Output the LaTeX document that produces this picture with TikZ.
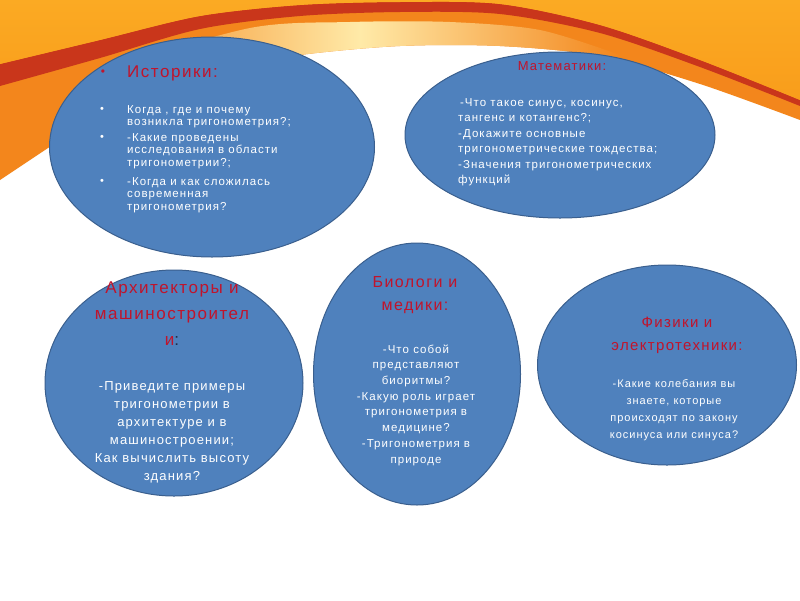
\documentclass[tikz,border=0pt]{standalone}
\usepackage{fontspec}
\setmainfont{Liberation Sans}[LetterSpace=9]
\usetikzlibrary{shapes.geometric}
\definecolor{ellfill}{HTML}{4F81BD}
\definecolor{elldraw}{HTML}{3A5F8E}
\definecolor{ttl}{HTML}{C0142C}
\definecolor{orA}{HTML}{F99D1B}
\definecolor{orAtop}{HTML}{FBAA23}
\definecolor{orB}{HTML}{F3861C}
\definecolor{redband}{HTML}{C9361B}
\definecolor{paley}{HTML}{FFEAA8}
\definecolor{darkcolon}{HTML}{1F2D4A}
\tikzset{
  ell/.style={ellipse, fill=ellfill, draw=elldraw, line width=1pt, inner sep=0pt},
  ttlA/.style={text=ttl, inner sep=0pt},
  body/.style={text=white, inner sep=0pt},
}
\begin{document}
\begin{tikzpicture}[x=1pt,y=-1pt]
\useasboundingbox (0,0) rectangle (800,600);
\fill[white] (0,0) rectangle (800,600);
% background swoosh
\fill[orB] (0,0) -- plot[smooth] coordinates {(0,180) (60,140) (120,100) (200,72) (300,55) (400,46) (500,46) (600,56) (700,84) (800,120)} -- (800,0) -- cycle;
\begin{scope}
  \clip (0,0) -- plot[smooth] coordinates {(0,180) (60,140) (120,100) (200,72) (300,55) (400,46) (500,46) (600,56) (700,84) (800,120)} -- (800,0) -- cycle;
  \shade[left color=orB, right color=orB, middle color=paley] plot[smooth] coordinates {(100,70) (250,28) (350,22) (450,22) (540,30) (620,55)} -- (620,140) -- (100,140) -- cycle;
\end{scope}
\fill[redband] plot[smooth] coordinates {(0,64) (100,40) (200,16) (300,5) (400,2) (500,4) (600,25) (700,60) (800,100)} -- plot[smooth] coordinates {(800,106) (700,67) (600,33) (500,14) (400,12) (300,16) (200,29) (100,58) (0,86)} -- cycle;
\shade[top color=orAtop, bottom color=orA] (0,0) -- plot[smooth] coordinates {(0,64) (100,40) (200,16) (300,5) (400,2) (500,4) (600,25) (700,60) (800,100)} -- (800,0) -- cycle;
% ellipses
\node[ell, minimum width=325pt, minimum height=220pt] (e1) at (212,147) {};
\node[ell, minimum width=310pt, minimum height=166pt] (e2) at (560,135) {};
\node[ell, minimum width=258pt, minimum height=226pt] (e3) at (174,383) {};
\node[ell, minimum width=207pt, minimum height=262pt] (e4) at (417,374) {};
\node[ell, minimum width=259pt, minimum height=200pt] (e5) at (667,365) {};
% Историки
\node[ttlA, font=\fontsize{12}{14}\selectfont, anchor=base] (hb0) at (103,75) {•};
\node[ttlA, font=\fontsize{17}{20}\selectfont, anchor=base west] (h0) at (127,77) {Историки:};
\node[body, font=\fontsize{11}{12.8}\selectfont, anchor=base] (hb1) at (102,112) {•};
\node[body, font=\fontsize{11}{12.8}\selectfont, anchor=base] (hb2) at (102,140) {•};
\node[body, font=\fontsize{11}{12.8}\selectfont, anchor=base] (hb3) at (102,184) {•};
\node[body, font=\fontsize{11.5}{12.8}\selectfont, anchor=base west, align=left] (h1) at (127,125.8) {Когда , где и почему\\возникла тригонометрия?;};
\node[body, font=\fontsize{11.5}{12.8}\selectfont, anchor=base west, align=left] (h2) at (127,166.6) {-Какие проведены\\исследования в области\\тригонометрии?;};
\node[body, font=\fontsize{11.5}{12.8}\selectfont, anchor=base west, align=left] (h3) at (127,210.6) {-Когда и как сложилась\\современная\\тригонометрия?};
% Математики
\node[ttlA, font=\fontsize{13}{15}\selectfont, anchor=base] (m0) at (562,70) {Математики:};
\node[body, font=\fontsize{11.5}{15.5}\selectfont, anchor=base west, align=left] (m1) at (458,183.5) {\,-Что такое синус, косинус,\\тангенс и котангенс?;\\-Докажите основные\\тригонометрические тождества;\\-Значения тригонометрических\\функций};
% Архитекторы
\node[ttlA, font=\fontsize{17}{26}\selectfont, anchor=base, align=center] (a0) at (172,345) {Архитекторы и\\машиностроител\\и\textcolor{darkcolon}{:}};
\node[body, font=\fontsize{13}{18}\selectfont, anchor=base, align=center] (a1) at (172,480) {-Приведите примеры\\тригонометрии в\\архитектуре и в\\машиностроении;\\Как вычислить высоту\\здания?};
% Биологи
\node[ttlA, font=\fontsize{16}{23}\selectfont, anchor=base, align=center] (b0) at (415,310) {Биологи и\\медики:};
\node[body, font=\fontsize{11.5}{15.7}\selectfont, anchor=base, align=center] (b1) at (416,463) {-Что собой\\представляют\\биоритмы?\\-Какую роль играет\\тригонометрия в\\медицине?\\-Тригонометрия в\\природе};
% Физики
\node[ttlA, font=\fontsize{15}{23}\selectfont, anchor=base, align=center] (f0) at (677,350) {Физики и\\электротехники:};
\node[body, font=\fontsize{11}{16.7}\selectfont, anchor=base, align=center] (f1) at (674,438) {-Какие колебания вы\\знаете, которые\\происходят по закону\\косинуса или синуса?};
\end{tikzpicture}
\end{document}
